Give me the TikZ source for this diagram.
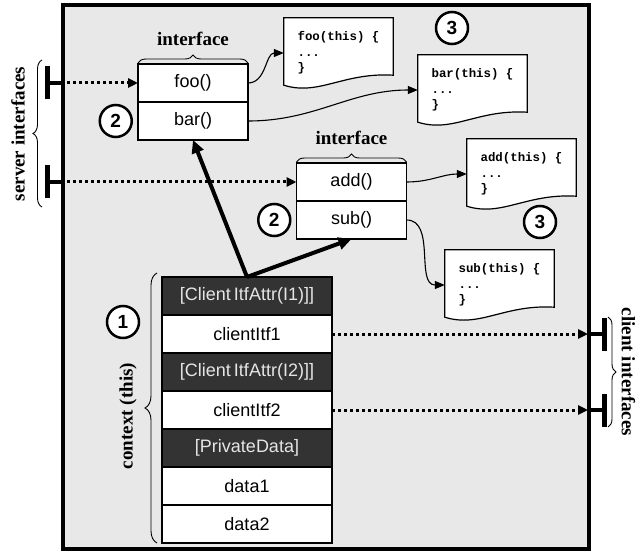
\documentclass[tikz,border=0pt]{standalone}
\usepackage{fontspec}
\setmainfont{Liberation Serif}
\setsansfont{Liberation Sans}
\setmonofont{Liberation Mono}
\usetikzlibrary{arrows.meta,positioning,decorations.pathreplacing}

\pgfdeclarelayer{back}
\pgfdeclarelayer{docs}
\pgfsetlayers{back,docs,main}

% sheet of code with a wavy lower edge, drawn behind the node text
\newcommand\docshape[1]{%
  \begin{pgfonlayer}{docs}
    \draw[docline] (#1.north west) -- (#1.north east) -- ([yshift=13pt]#1.south east)
      .. controls ([xshift=-50pt,yshift=16pt]#1.south east) and ([xshift=35pt,yshift=-8pt]#1.south west) .. ([yshift=3pt]#1.south west) -- cycle;
  \end{pgfonlayer}}

\begin{document}
\begin{tikzpicture}[x=1pt,y=-1pt,
      frame/.style={
         draw=black,
         line width=4pt,
         fill=black!9},
      itfrow/.style={
         draw=black,
         line width=1.2pt,
         fill=white,
         outer sep=0pt,
         inner sep=0pt,
         minimum width=110pt,
         minimum height=38pt,
         font=\sffamily\fontsize{18}{20}\selectfont},
      datarow/.style={itfrow, minimum width=170pt},
      darkrow/.style={datarow, fill=black!80, text=black!10},
      docbox/.style={
         minimum width=109pt,
         minimum height=70pt,
         inner sep=0pt,
         align=left,
         font=\ttfamily\bfseries\fontsize{12.4}{15.5}\selectfont},
      docline/.style={draw=black, line width=1.2pt, fill=white},
      numcircle/.style={
         circle,
         draw=black,
         line width=2.5pt,
         fill=white,
         inner sep=0pt,
         minimum size=32pt,
         font=\sffamily\bfseries\fontsize{19}{20}\selectfont},
      biglabel/.style={font=\bfseries\fontsize{19}{21}\selectfont, inner sep=1pt},
      mybrace/.style={decorate, decoration={brace, amplitude=8pt}, line width=0.9pt},
      dotarrow/.style={line width=3pt, dash pattern=on 3pt off 3pt, -{Triangle[length=10pt,width=9pt]}},
      callarrow/.style={line width=1.1pt, -{Triangle[length=10pt,width=8pt]}},
      ctxarrow/.style={line width=4pt, -{Triangle[length=13pt,width=12pt]}},
      tbar/.style={line width=5pt},
      tstem/.style={line width=4pt},
      node distance=0pt
      ]
      \useasboundingbox (0,0) rectangle (639,553);

      \begin{pgfonlayer}{back}
      \node[frame, minimum width=526pt, minimum height=544pt] (comp) at (326,277) {};
      \end{pgfonlayer}

      % interfaces
      \node[itfrow] (foo) at (193,83) {foo()};
      \node[itfrow, below=of foo] (bar) {bar()};
      \node[itfrow] (add) at (351.5,182) {add()};
      \node[itfrow, below=of add] (sub) {sub()};
      \node[biglabel, above=17pt of foo] (itf1) {interface};
      \node[biglabel, above=17pt of add] (itf2) {interface};
      \draw[mybrace] ([yshift=1pt]foo.north west) -- ([yshift=1pt]foo.north east);
      \draw[mybrace] ([yshift=1pt]add.north west) -- ([yshift=1pt]add.north east);

      % context (this)
      \node[darkrow] (attr1) at (247,296) {[Client\,ItfAttr(I1)]]};
      \node[datarow, below=of attr1] (cli1) {clientItf1};
      \node[darkrow, below=of cli1] (attr2) {[Client\,ItfAttr(I2)]]};
      \node[datarow, below=of attr2] (cli2) {clientItf2};
      \node[darkrow, below=of cli2] (priv) {[PrivateData]};
      \node[datarow, below=of priv] (data1) {data1};
      \node[datarow, below=of data1] (data2) {data2};
      \draw[mybrace, decoration={amplitude=12pt}] (157,543) -- (157,273);
      \node[biglabel, rotate=90] (ctxlbl) at (128,416) {context (this)};

      % implementations
      \node[docbox] (foodoc) at (338.5,53) {foo(this) \{\\...\\\}};
      \node[docbox] (bardoc) at (472.5,90) {bar(this) \{\\...\\\}};
      \node[docbox] (adddoc) at (521.5,174) {add(this) \{\\...\\\}};
      \node[docbox] (subdoc) at (499.5,285) {sub(this) \{\\...\\\}};
      \foreach \d in {foodoc,bardoc,adddoc,subdoc}
         \docshape{\d};

      \node[numcircle] (n1) at (123,322) {1};
      \node[numcircle, left=5pt of bar] (n2a) {2};
      \node[numcircle, left=5pt of sub] (n2b) {2};
      \node[numcircle] (n3a) at (452,28) {3};
      \node[numcircle] (n3b) at (540,222) {3};

      \foreach \i/\j in {% method/code
         foo/foodoc,
         bar/bardoc,
         add/adddoc,
         sub/subdoc}
         \draw[callarrow] (\i.east) to[out=0,in=180] (\j.west);

      \foreach \j in {bar,sub}
         \draw[ctxarrow] (attr1.north) -- (\j.south);

      % server and client ports
      \coordinate (s1) at (47,83);
      \coordinate (s2) at (47,182);
      \coordinate (c1) at (604,334);
      \coordinate (c2) at (604,410);
      \foreach \p in {s1,s2} {
         \draw[tstem] (\p) -- (\p -| comp.west);
         \draw[tbar] ([yshift=16.5pt]\p) -- ([yshift=-16.5pt]\p);
      }
      \foreach \p in {c1,c2} {
         \draw[tstem] (\p) -- (\p -| comp.east);
         \draw[tbar] ([yshift=16.5pt]\p) -- ([yshift=-16.5pt]\p);
      }
      \draw[dotarrow] (s1 -| comp.west) -- (foo.west);
      \draw[dotarrow] (s2 -| comp.west) -- (add.west);
      \draw[dotarrow, shorten >=3pt] (cli1.east) -- (cli1.east -| comp.east);
      \draw[dotarrow, shorten >=3pt] (cli2.east) -- (cli2.east -| comp.east);

      \draw[mybrace, decoration={amplitude=9pt}] (42,207) -- (42,60);
      \draw[mybrace, decoration={amplitude=8pt}] (608,317) -- (608,427);
      \node[biglabel, rotate=-90] (clilbl) at (628.5,372) {client interfaces};
      \node[biglabel, rotate=90] (srvlbl) at (18,134) {server interfaces};
\end{tikzpicture}
\end{document}
